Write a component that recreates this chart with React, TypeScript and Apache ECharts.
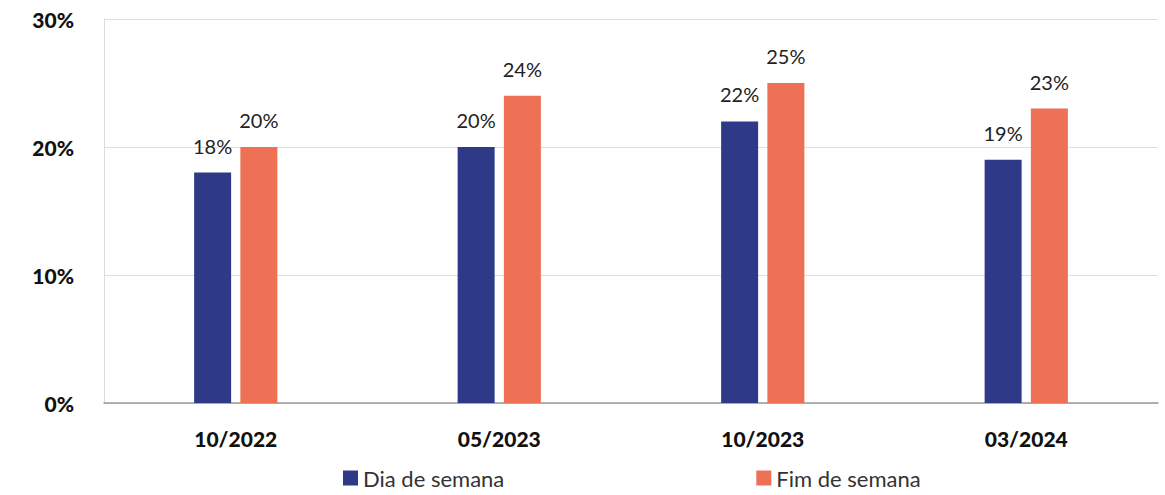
import React, { useEffect, useRef } from "react";
import * as echarts from "echarts";

const categories = ["10/2022", "05/2023", "10/2023", "03/2024"];
const diaDeSemana = [18, 20, 22, 19];
const fimDeSemana = [20, 24, 25, 23];
const seriesNames = ["Dia de semana", "Fim de semana"];

export default function App() {
  const ref = useRef<HTMLDivElement>(null);
  useEffect(() => {
    const chart = echarts.init(ref.current!, null, { renderer: "svg" });
    const font = "Lato, 'Open Sans', sans-serif";
    const label = {
      show: true,
      position: "top",
      distance: 17,
      formatter: "{c}%",
      color: "#222",
      fontSize: 20,
      fontFamily: font,
    };
    chart.setOption({
      animation: false,
      grid: { left: 104, right: 7, top: 19, bottom: 92 },
      legend: {
        bottom: 1,
        left: 338,
        itemWidth: 15,
        itemHeight: 15,
        itemGap: 252,
        icon: "rect",
        textStyle: { fontSize: 22, color: "#333", fontFamily: font },
        data: seriesNames,
      },
      xAxis: {
        type: "category",
        data: categories,
        axisLine: { lineStyle: { color: "#999", width: 1.5 } },
        axisTick: { show: false },
        axisLabel: {
          margin: 25,
          fontSize: 21,
          fontWeight: 900,
          color: "#111",
          fontFamily: font,
        },
      },
      yAxis: {
        type: "value",
        min: 0,
        max: 30,
        interval: 10,
        axisLine: { show: true, lineStyle: { color: "#ddd" } },
        splitLine: { lineStyle: { color: "#ddd" } },
        axisLabel: {
          formatter: "{value}%",
          margin: 30,
          fontSize: 21,
          fontWeight: 900,
          color: "#111",
          fontFamily: font,
        },
      },
      series: [
        {
          name: seriesNames[0],
          type: "bar",
          data: diaDeSemana,
          barWidth: 37,
          barGap: "25%",
          itemStyle: { color: "#2E3A87" },
          label,
        },
        {
          name: seriesNames[1],
          type: "bar",
          data: fimDeSemana,
          barWidth: 37,
          barGap: "25%",
          itemStyle: { color: "#EE7155" },
          label,
        },
      ],
    });
    return () => chart.dispose();
  }, []);
  return (
    <div
      ref={ref}
      style={{ position: "fixed", left: 0, top: 0, width: 1165, height: 495, background: "#fff" }}
    />
  );
}
